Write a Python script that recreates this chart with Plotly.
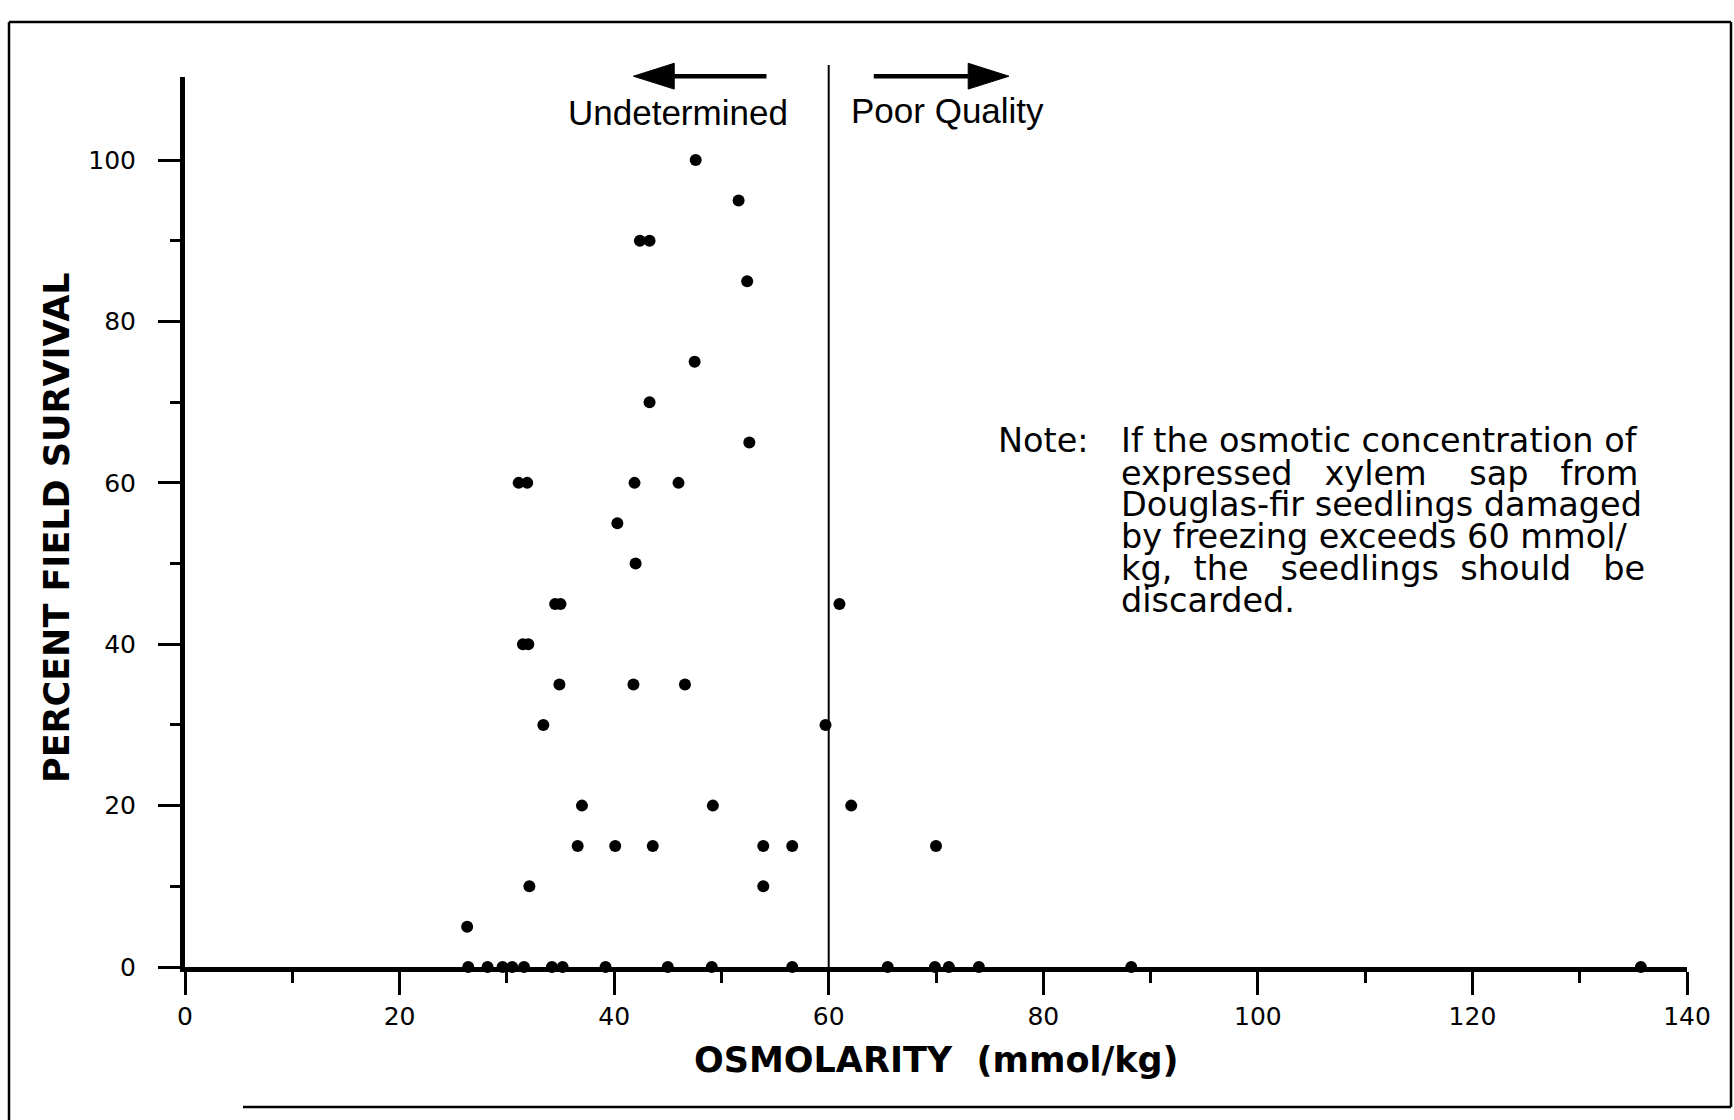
import plotly.graph_objects as go

# ---- data ----
osmolarity = [26.3, 47.6, 51.6, 42.4, 43.3, 52.4, 47.5, 43.3, 52.6,
              31.1, 31.9, 41.9, 46.0, 40.3, 42.0, 34.5, 35.0, 61.0,
              31.5, 32.0, 34.9, 41.8, 46.6, 33.4, 59.7, 37.0, 49.2, 62.1,
              36.6, 40.1, 43.6, 53.9, 56.6, 70.0, 32.1, 53.9]
survival = [5, 100, 95, 90, 90, 85, 75, 70, 65,
            60, 60, 60, 60, 55, 50, 45, 45, 45,
            40, 40, 35, 35, 35, 30, 30, 20, 20, 20,
            15, 15, 15, 15, 15, 15, 10, 10]
zero_osmolarity = [26.4, 28.2, 29.6, 30.5, 31.6, 34.2, 35.2, 39.2, 45.0,
                   49.1, 56.6, 65.5, 69.9, 71.2, 74.0, 88.2, 135.7]
zero_survival = [0, 0, 0, 0, 0, 0, 0, 0, 0,
                 0, 0, 0, 0, 0, 0, 0, 0]

x_ticks = [0, 20, 40, 60, 80, 100, 120, 140]
x_tick_labels = ["0", "20", "40", "60", "80", "100", "120", "140"]
x_minor = [10, 30, 50, 70, 90, 110, 130]
y_ticks = [0, 20, 40, 60, 80, 100]
y_tick_labels = ["0", "20", "40", "60", "80", "100"]
y_minor = [10, 30, 50, 70, 90]

threshold = 60
x_title = "OSMOLARITY\u00a0 (mmol/kg)"
y_title = "PERCENT FIELD SURVIVAL"
left_label = "Undetermined"
right_label = "Poor Quality"
note_label = "Note:"
note_lines = [
    "If the osmotic concentration of",
    "expressed\u00a0\u00a0 xylem\u00a0\u00a0\u00a0 sap\u00a0\u00a0 from",
    "Douglas-fir seedlings damaged",
    "by freezing exceeds 60 mmol/",
    "kg,\u00a0 the\u00a0\u00a0 seedlings\u00a0 should\u00a0\u00a0 be",
    "discarded.",
]

# ---- geometry (pixels of the 1734x1120 page) ----
W, H = 1734, 1120
Y_MAX = 110.3
ML, MR, MT, MB = 185, 47, 77, 153
PW, PH = W - ML - MR, H - MT - MB


def px(xp, yp):
    return (xp - ML) / PW, (H - MB - yp) / PH


def ypaper(v):
    return v / Y_MAX


x_all = osmolarity + zero_osmolarity
y_all = survival + zero_survival

fig = go.Figure()
fig.add_trace(go.Scatter(
    x=x_all, y=y_all, mode="markers",
    marker=dict(color="black", size=12, line=dict(width=0)),
    cliponaxis=False, showlegend=False, hoverinfo="x+y",
))

tick_font = dict(family="DejaVu Sans", size=25, color="black")

fig.update_layout(
    width=W, height=H, autosize=False,
    margin=dict(l=ML, r=MR, t=MT, b=MB, pad=0),
    paper_bgcolor="white", plot_bgcolor="white",
    showlegend=False,
    xaxis=dict(
        range=[0, 140], showgrid=False, zeroline=False,
        showline=True, linewidth=5, linecolor="black",
        ticks="outside", ticklen=23, tickwidth=3, tickcolor="black",
        tickvals=x_ticks, ticktext=x_tick_labels, tickfont=tick_font,
        ticklabelstandoff=0,
        minor=dict(tickvals=x_minor, ticks="outside", ticklen=11,
                   tickwidth=3, tickcolor="black", showgrid=False),
    ),
    yaxis=dict(
        range=[0, Y_MAX], showgrid=False, zeroline=False,
        showline=True, linewidth=5, linecolor="black",
        ticks="outside", ticklen=22, tickwidth=3, tickcolor="black",
        tickvals=y_ticks, ticktext=y_tick_labels, tickfont=tick_font,
        ticklabelstandoff=17,
        minor=dict(tickvals=y_minor, ticks="outside", ticklen=10,
                   tickwidth=3, tickcolor="black", showgrid=False),
    ),
)

shapes = []
# threshold line (x in data, y in paper so it can rise above the axis top)
shapes.append(dict(type="line", xref="x", yref="paper", x0=threshold, x1=threshold,
                   y0=ypaper(0), y1=ypaper(111.8), line=dict(color="black", width=2)))

# arrows (tail, head base, tip) in data units
arrow_y = 110.4
arrow_half = 1.6
arrows = [(54.2, 45.6, 41.8), (64.2, 73.0, 76.8)]
for tail, base, tip in arrows:
    shapes.append(dict(type="line", xref="x", yref="paper", x0=tail, x1=base,
                       y0=ypaper(arrow_y), y1=ypaper(arrow_y),
                       line=dict(color="black", width=4.5)))
    shapes.append(dict(type="path", xref="x", yref="paper",
                       path=f"M {base},{ypaper(arrow_y - arrow_half)} L {tip},{ypaper(arrow_y)} "
                            f"L {base},{ypaper(arrow_y + arrow_half)} Z",
                       fillcolor="black", line=dict(color="black", width=1)))

# page border (scanned frame)
bx0, by0 = px(9, 22)
bx1, by1 = px(1731, 1107)
bxb, _ = px(243, 1107)
shapes.append(dict(type="line", xref="paper", yref="paper", x0=bx0, x1=bx1, y0=by0, y1=by0,
                   line=dict(color="black", width=2.5)))
shapes.append(dict(type="line", xref="paper", yref="paper", x0=bx0, x1=bx0, y0=by0, y1=px(9, 1120)[1],
                   line=dict(color="black", width=2.5)))
shapes.append(dict(type="line", xref="paper", yref="paper", x0=bx1, x1=bx1, y0=by0, y1=by1,
                   line=dict(color="black", width=2.5)))
shapes.append(dict(type="line", xref="paper", yref="paper", x0=bxb, x1=bx1, y0=by1, y1=by1,
                   line=dict(color="black", width=2.5)))
fig.update_layout(shapes=shapes)

ann = []
label_font = dict(family="Liberation Sans, Arial", size=35, color="black")
ann.append(dict(x=56.4, y=105.9, xref="x", yref="y", text=left_label, showarrow=False,
                xanchor="right", yanchor="middle", font=label_font))
ann.append(dict(x=61.9, y=106.1, xref="x", yref="y", text=right_label, showarrow=False,
                xanchor="left", yanchor="middle", font=label_font))

note_font = dict(family="DejaVu Sans", size=33.5, color="black")
ann.append(dict(x=75.6, y=65.2, xref="x", yref="y", text=note_label, showarrow=False,
                xanchor="left", yanchor="middle", font=note_font))
note_y = [65.2, 61.2, 57.3, 53.4, 49.4, 45.4]
for line, yy in zip(note_lines, note_y):
    ann.append(dict(x=87.1, y=yy, xref="x", yref="y", text=line, showarrow=False,
                    xanchor="left", yanchor="middle", font=note_font))

title_font = dict(family="DejaVu Sans", size=35, color="black", weight="bold")
tx, ty = px(936, 1060)
ann.append(dict(x=tx, y=ty, xref="paper", yref="paper", text=f"<b>{x_title}</b>",
                showarrow=False, xanchor="center", yanchor="middle", font=title_font))
yx, yy_ = px(57, 528)
ann.append(dict(x=yx, y=yy_, xref="paper", yref="paper", text=f"<b>{y_title}</b>",
                showarrow=False, xanchor="center", yanchor="middle", textangle=-90,
                font=title_font))
fig.update_layout(annotations=ann)

fig.write_html("out.html", config={"displayModeBar": False},
               post_script="document.body.style.margin='0';")
